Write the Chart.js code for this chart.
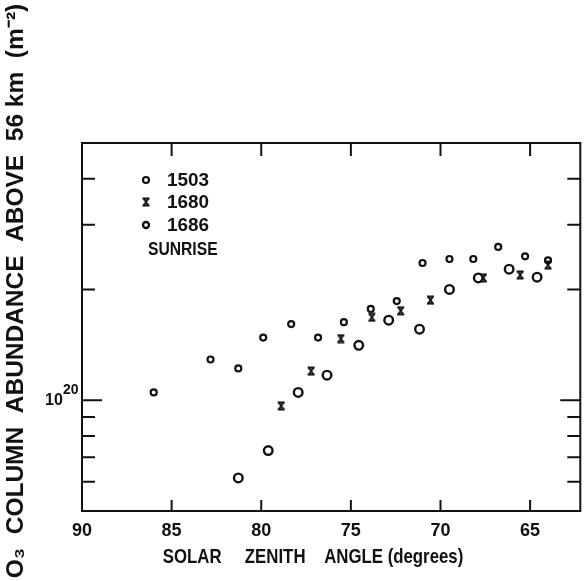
<!DOCTYPE html>
<html><head><meta charset="utf-8">
<script src="https://cdn.jsdelivr.net/npm/chart.js@4/dist/chart.umd.min.js"></script>
<style>html,body{margin:0;padding:0;background:#fff;} #wrap{width:587px;height:581px;position:relative;}</style>
</head><body><div id="wrap"><canvas id="c" width="587" height="581"></canvas></div>
<script>
// ---- data ----
const seriesNames = ['1503', '1680', '1686'];
const legendNote = 'SUNRISE';
const angle1503 = [86.0, 82.83, 81.28, 79.89, 78.33, 76.83, 75.39, 73.89, 72.44, 71.0, 69.5, 68.17, 66.78, 65.28, 64.0];
const o3_1503   = [1.05e20, 1.29e20, 1.22e20, 1.48e20, 1.61e20, 1.48e20, 1.63e20, 1.77e20, 1.86e20, 2.36e20, 2.42e20, 2.42e20, 2.61e20, 2.46e20, 2.40e20];
const angle1680 = [78.89, 77.22, 75.56, 73.83, 72.22, 70.56, 67.61, 65.56, 64.0];
const o3_1680   = [9.65e19, 1.2e20, 1.47e20, 1.68e20, 1.75e20, 1.87e20, 2.15e20, 2.19e20, 2.33e20];
const angle1686 = [81.28, 79.61, 77.94, 76.33, 74.56, 72.89, 71.17, 69.5, 67.89, 66.17, 64.61];
const o3_1686   = [6.15e19, 7.3e19, 1.05e20, 1.17e20, 1.41e20, 1.65e20, 1.56e20, 2.0e20, 2.15e20, 2.27e20, 2.16e20];
const xTickValues = [90, 85, 80, 75, 70, 65];
const yTickValues = [5e19, 6e19, 7e19, 8e19, 9e19, 1e20, 2e20, 3e20, 4e20, 5e20];
const yLabelledTick = 1e20;
const yLabelBase = '10';
const yLabelExp = '20';
const xTitle = 'SOLAR     ZENITH    ANGLE (degrees)';
const yTitle = 'O₃  COLUMN  ABUNDANCE  ABOVE  56 km  (m⁻²)';

const INK = '#111';
const FONT = '"Liberation Sans", Arial, sans-serif';

function pts(xs, ys) { return xs.map((x, i) => ({ x: x, y: ys[i] })); }

// hourglass-like "x" marker for 1680
const hg = document.createElement('canvas');
hg.width = 9; hg.height = 10;
(function () {
  const g = hg.getContext('2d');
  g.strokeStyle = INK; g.lineWidth = 1.9; g.lineCap = 'butt';
  g.beginPath();
  g.moveTo(1, 1.5); g.lineTo(8, 1.5);
  g.moveTo(1, 8.5); g.lineTo(8, 8.5);
  g.moveTo(2, 1.5); g.lineTo(7, 8.5);
  g.moveTo(7, 1.5); g.lineTo(2, 8.5);
  g.stroke();
})();

function scaledText(ctx, text, x, y, sx) {
  ctx.save();
  ctx.translate(x, y);
  ctx.scale(sx, 1);
  ctx.fillText(text, 0, 0);
  ctx.restore();
}

const framePlugin = {
  id: 'frame',
  afterDraw(chart) {
    const ctx = chart.ctx, a = chart.chartArea;
    const xs = chart.scales.x, ys = chart.scales.y;
    ctx.save();
    ctx.strokeStyle = INK;
    ctx.lineWidth = 2;
    ctx.strokeRect(a.left, a.top, a.right - a.left, a.bottom - a.top);
    ctx.beginPath();
    xTickValues.forEach(v => {
      const px = xs.getPixelForValue(v);
      ctx.moveTo(px, a.bottom); ctx.lineTo(px, a.bottom - 11);
      ctx.moveTo(px, a.top); ctx.lineTo(px, a.top + 13);
    });
    yTickValues.forEach(v => {
      const py = ys.getPixelForValue(v);
      const len = (Math.abs(v - yLabelledTick) < 1e15) ? 20 : 13;
      ctx.moveTo(a.left, py); ctx.lineTo(a.left + len, py);
      ctx.moveTo(a.right, py); ctx.lineTo(a.right - len, py);
    });
    ctx.stroke();

    ctx.fillStyle = INK;
    // y tick label 10^20
    const py = ys.getPixelForValue(yLabelledTick);
    ctx.textBaseline = 'alphabetic';
    ctx.textAlign = 'left';
    ctx.font = 'bold 16px ' + FONT;
    scaledText(ctx, yLabelBase, 45, py + 5, 1.0);
    ctx.font = 'bold 14px ' + FONT;
    scaledText(ctx, yLabelExp, 63, py - 6, 1.0);

    // axis titles
    ctx.font = 'bold 21px ' + FONT;
    ctx.textAlign = 'center';
    ctx.textBaseline = 'middle';
    scaledText(ctx, xTitle, 313, 557, 0.8);
    ctx.save();
    ctx.translate(16, 291);
    ctx.rotate(-Math.PI / 2);
    ctx.font = 'bold 24px ' + FONT;
    scaledText(ctx, yTitle, 0, 0, 1.02);
    ctx.restore();

    // legend
    const rows = [180, 202, 225];
    chart.data.datasets.forEach((ds, i) => {
      ctx.save();
      ctx.strokeStyle = ds.borderColor;
      ctx.fillStyle = ds.backgroundColor;
      ctx.lineWidth = ds.borderWidth;
      Chart.helpers.drawPoint(ctx, { pointStyle: ds.pointStyle, radius: Math.min(ds.pointRadius, 3), borderWidth: ds.borderWidth, rotation: 0 }, 146, rows[i]);
      ctx.restore();
      ctx.fillStyle = INK;
      ctx.font = 'bold 18px ' + FONT;
      ctx.textAlign = 'left';
      ctx.textBaseline = 'middle';
      scaledText(ctx, ds.label, 167, rows[i] + 1, 1.05);
    });
    ctx.font = 'bold 18px ' + FONT;
    ctx.textAlign = 'left';
    ctx.textBaseline = 'middle';
    scaledText(ctx, legendNote, 148, 250, 0.87);
    ctx.restore();
  }
};

new Chart(document.getElementById('c'), {
  type: 'scatter',
  data: {
    datasets: [
      { label: seriesNames[0], data: pts(angle1503, o3_1503), pointStyle: 'circle', pointRadius: 3, borderWidth: 2.2, borderColor: INK, backgroundColor: 'rgba(255,255,255,0)' },
      { label: seriesNames[1], data: pts(angle1680, o3_1680), pointStyle: hg, pointRadius: 4, borderWidth: 1.8, borderColor: INK, backgroundColor: INK },
      { label: seriesNames[2], data: pts(angle1686, o3_1686), pointStyle: 'circle', pointRadius: 4.3, borderWidth: 2.4, borderColor: INK, backgroundColor: 'rgba(255,255,255,0)' }
    ]
  },
  options: {
    responsive: false,
    animation: false,
    devicePixelRatio: 1,
    layout: { padding: { top: 143, right: 4, left: 0, bottom: 0 } },
    plugins: { legend: { display: false }, tooltip: { enabled: false } },
    scales: {
      x: {
        type: 'linear', reverse: true, min: 62.2, max: 90,
        grid: { display: false, drawTicks: false }, border: { display: false },
        afterBuildTicks: s => { s.ticks = xTickValues.map(v => ({ value: v })); },
        afterFit: s => { s.height = 70; },
        ticks: { autoSkip: false, maxRotation: 0, padding: 9, color: INK, font: { family: FONT, size: 18, weight: 'bold' } }
      },
      y: {
        type: 'logarithmic', min: 5e19, max: 5e20,
        grid: { display: false, drawTicks: false }, border: { display: false },
        afterBuildTicks: s => { s.ticks = yTickValues.map(v => ({ value: v })); },
        afterFit: s => { s.width = 82; },
        ticks: { display: false }
      }
    }
  },
  plugins: [framePlugin]
});
</script>
</body></html>
